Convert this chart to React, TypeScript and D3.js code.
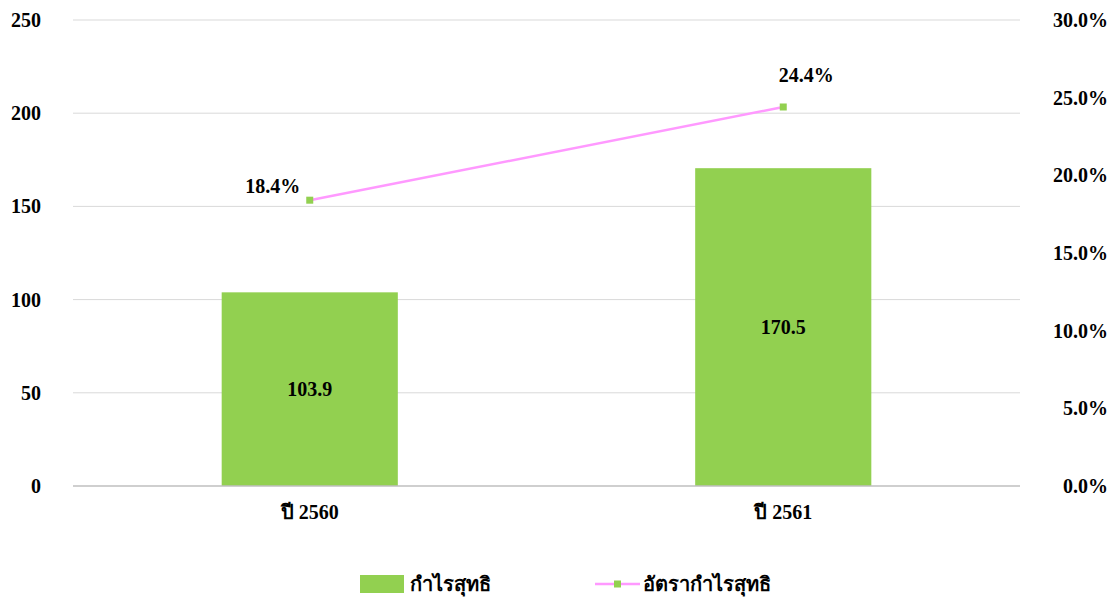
import * as d3 from 'd3'
import { useEffect, useRef } from 'react'

const years = ['ปี 2560', 'ปี 2561']
const profit = [103.9, 170.5]
const profitRate = [18.4, 24.4]
const leftTicks = [0, 50, 100, 150, 200, 250]
const rightTicks = [0, 5, 10, 15, 20, 25, 30]
const seriesNames = ['กำไรสุทธิ', 'อัตรากำไรสุทธิ']

// ตำแหน่งป้ายเส้น (dx, dy) เทียบกับจุด
const rateLabelOffset: [number, number][] = [
  [-37, -7],
  [23, -25],
]

const W = 1120
const H = 598
const FONT = '"Liberation Serif", "Times New Roman", serif'
const FS = 20

export default function App() {
  const svgRef = useRef<SVGSVGElement>(null)

  useEffect(() => {
    if (!svgRef.current) return
    const svg = d3.select(svgRef.current)
    svg.selectAll('*').remove()

    const margin = { top: 20, right: 100, bottom: 112, left: 73 }
    const innerW = W - margin.left - margin.right
    const innerH = H - margin.top - margin.bottom

    const x = d3.scaleBand<string>().domain(years).range([0, innerW]).padding(0)
    const y = d3.scaleLinear().domain([0, 250]).range([innerH, 0])
    const y2 = d3.scaleLinear().domain([0, 30]).range([innerH, 0])
    const barW = x.bandwidth() * 0.372

    const g = svg.append('g').attr('transform', `translate(${margin.left},${margin.top})`)

    // เส้นกริด
    g.append('g')
      .selectAll('line')
      .data(leftTicks.filter((t) => t > 0))
      .join('line')
      .attr('x1', 0)
      .attr('x2', innerW)
      .attr('y1', (d) => y(d))
      .attr('y2', (d) => y(d))
      .attr('stroke', '#d9d9d9')
      .attr('stroke-width', 1)

    // แท่ง
    g.append('g')
      .selectAll('rect')
      .data(profit)
      .join('rect')
      .attr('x', (_, i) => x(years[i])! + x.bandwidth() / 2 - barW / 2)
      .attr('width', barW)
      .attr('y', (d) => y(d))
      .attr('height', (d) => innerH - y(d))
      .attr('fill', '#92d050')

    g.append('line')
      .attr('x1', 0)
      .attr('x2', innerW)
      .attr('y1', innerH)
      .attr('y2', innerH)
      .attr('stroke', '#bfbfbf')
      .attr('stroke-width', 1.3)

    g.append('g')
      .selectAll('text')
      .data(profit)
      .join('text')
      .attr('x', (_, i) => x(years[i])! + x.bandwidth() / 2)
      .attr('y', (d) => (y(d) + innerH) / 2 + 7)
      .attr('text-anchor', 'middle')
      .attr('font-family', FONT)
      .attr('font-weight', 'bold')
      .attr('font-size', FS)
      .attr('fill', '#000')
      .text((d) => d.toFixed(1))

    // เส้นอัตรากำไร
    const cx = (i: number) => x(years[i])! + x.bandwidth() / 2
    const line = d3
      .line<number>()
      .x((_, i) => cx(i))
      .y((d) => y2(d))
    g.append('path')
      .datum(profitRate)
      .attr('fill', 'none')
      .attr('stroke', '#ff99ff')
      .attr('stroke-width', 2.5)
      .attr('d', line)

    g.append('g')
      .selectAll('rect')
      .data(profitRate)
      .join('rect')
      .attr('x', (_, i) => cx(i) - 3.5)
      .attr('y', (d) => y2(d) - 3.5)
      .attr('width', 7)
      .attr('height', 7)
      .attr('fill', '#92d050')

    g.append('g')
      .selectAll('text')
      .data(profitRate)
      .join('text')
      .attr('x', (_, i) => cx(i) + rateLabelOffset[i][0])
      .attr('y', (d, i) => y2(d) + rateLabelOffset[i][1])
      .attr('text-anchor', 'middle')
      .attr('font-family', FONT)
      .attr('font-weight', 'bold')
      .attr('font-size', FS)
      .text((d) => `${d.toFixed(1)}%`)

    // แกน
    const styleAxis = (s: d3.Selection<SVGGElement, unknown, null, undefined>) => {
      s.select('.domain').remove()
      s.selectAll('.tick line').remove()
      s.selectAll('text')
        .attr('font-family', FONT)
        .attr('font-weight', 'bold')
        .attr('font-size', FS)
        .attr('fill', '#000')
    }
    g.append('g')
      .call(d3.axisLeft(y).tickValues(leftTicks).tickSize(0).tickPadding(32))
      .call(styleAxis)
    g.append('g')
      .attr('transform', `translate(${innerW},0)`)
      .call(
        d3
          .axisRight(y2)
          .tickValues(rightTicks)
          .tickSize(0)
          .tickPadding(88)
          .tickFormat((d) => `${(+d).toFixed(1)}%`),
      )
      .call(styleAxis)
      .call((s) => s.selectAll('text').attr('text-anchor', 'end'))
    g.append('g')
      .attr('transform', `translate(0,${innerH})`)
      .call(d3.axisBottom(x).tickSize(0).tickPadding(19))
      .call(styleAxis)

    // คำอธิบาย
    const lg = svg.append('g').attr('transform', `translate(360,575)`)
    lg.append('rect').attr('width', 44).attr('height', 18).attr('fill', '#92d050')
    lg.append('text')
      .attr('x', 50)
      .attr('y', 16)
      .attr('font-family', FONT)
      .attr('font-weight', 'bold')
      .attr('font-size', FS)
      .text(seriesNames[0])
    lg.append('line')
      .attr('x1', 235)
      .attr('x2', 280)
      .attr('y1', 9)
      .attr('y2', 9)
      .attr('stroke', '#ff99ff')
      .attr('stroke-width', 2.5)
    lg.append('rect').attr('x', 254).attr('y', 5.5).attr('width', 7).attr('height', 7).attr('fill', '#92d050')
    lg.append('text')
      .attr('x', 283)
      .attr('y', 16)
      .attr('font-family', FONT)
      .attr('font-weight', 'bold')
      .attr('font-size', FS)
      .text(seriesNames[1])
  }, [])

  return (
    <svg
      ref={svgRef}
      width={W}
      height={H}
      style={{ position: 'absolute', left: 0, top: 0, background: '#fff' }}
    />
  )
}
